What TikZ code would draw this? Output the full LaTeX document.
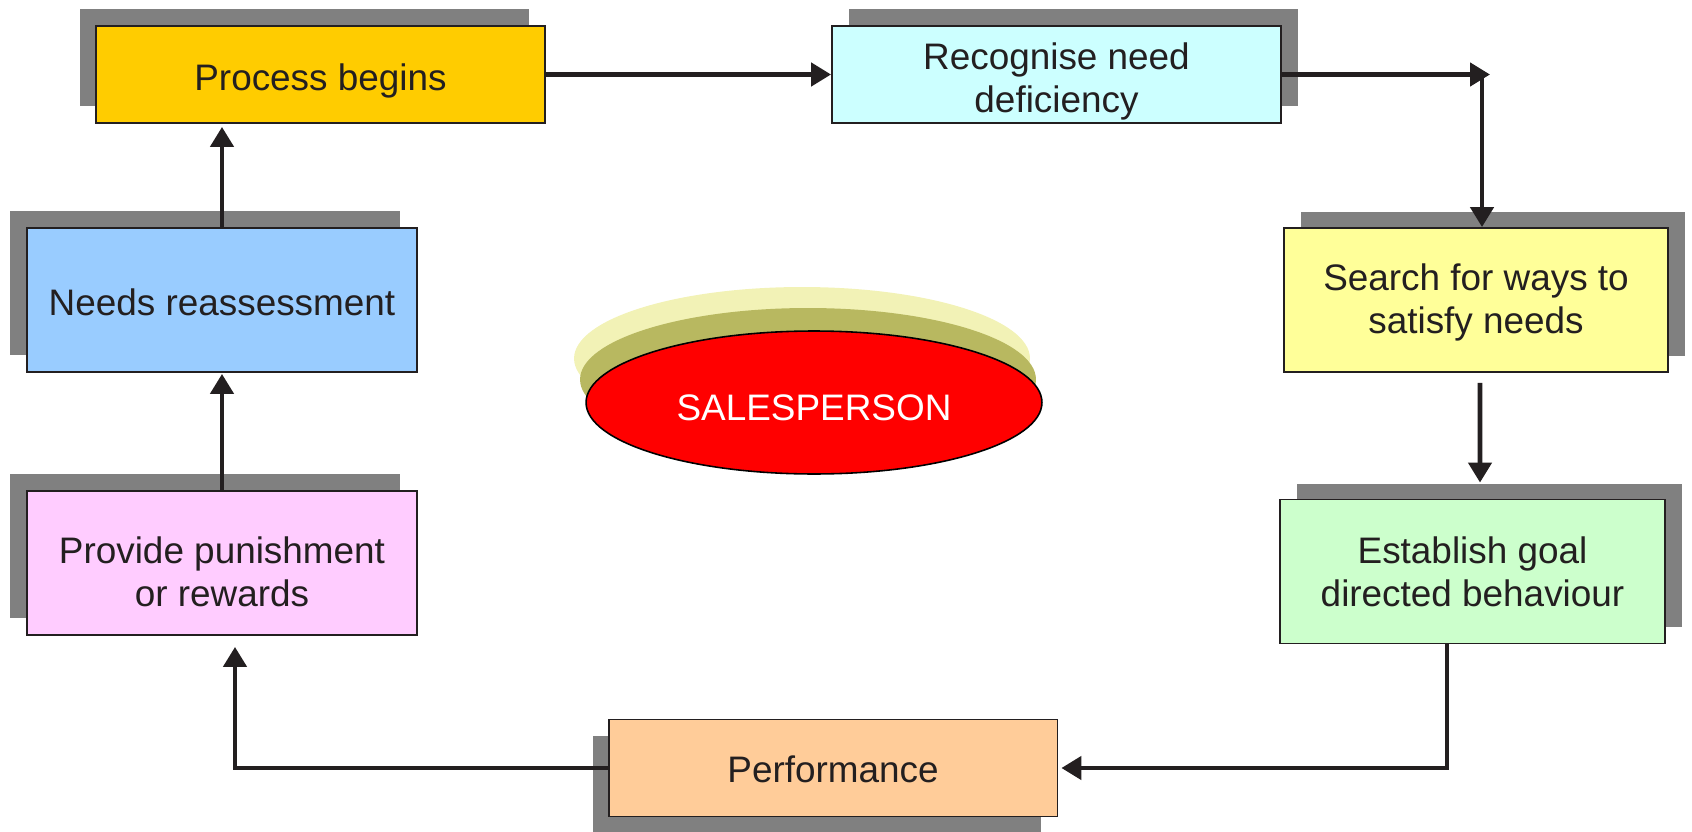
\documentclass[tikz,border=0pt]{standalone}
\usepackage{fontspec}
\setmainfont{Liberation Sans}
\usetikzlibrary{arrows.meta,shapes.geometric,shadows}
\definecolor{tinta}{HTML}{231F20}
\definecolor{grisSombra}{HTML}{808080}
\definecolor{amarilloInicio}{HTML}{FFCC00}
\definecolor{celeste}{HTML}{CCFFFF}
\definecolor{amarilloClaro}{HTML}{FFFF99}
\definecolor{verdeClaro}{HTML}{CCFFCC}
\definecolor{durazno}{HTML}{FFCC99}
\definecolor{rosa}{HTML}{FFCCFF}
\definecolor{azulClaro}{HTML}{99CCFF}
\definecolor{olivo}{HTML}{B8B860}
\definecolor{olivoClaro}{HTML}{F2F2B6}
\newcommand{\bajar}[2][0.14cm]{\raisebox{-#1}[\height][\depth]{\begin{tabular}{@{}c@{}}#2\end{tabular}}}

\begin{document}
\begin{tikzpicture}[x=0.02cm, y=-0.02cm,
    caja/.style={draw=tinta, line width=1.1pt, fill=#1, inner sep=0pt,
        text=tinta, font=\fontsize{21}{24.5}\selectfont},
    ancha/.style={minimum width=8.98cm, minimum height=1.94cm},
    alta/.style={minimum width=7.7cm, minimum height=2.88cm},
    sombra/.style 2 args={drop shadow={shadow xshift=#1, shadow yshift=#2, fill=grisSombra, opacity=1}},
    flecha/.style={draw=tinta, line width=2.6pt, -{Triangle[length=0.4cm, width=0.46cm]}}]
        \useasboundingbox (0,0) rectangle (1692,831);
        % las cajas del ciclo
        \node[caja=amarilloInicio, ancha, sombra={-0.32cm}{0.34cm}] (inicio) at (320.5,74.5) {\bajar{Process begins}};
        \node[caja=celeste, ancha, sombra={0.34cm}{0.34cm}] (reconoce) at (1056.5,74.5) {\bajar[0.15cm]{Recognise need\\deficiency}};
        \node[caja=amarilloClaro, alta, minimum width=7.68cm, sombra={0.34cm}{0.32cm}] (busca) at (1476,300) {\bajar[0.07cm]{Search for ways to\\satisfy needs}};
        \node[caja=verdeClaro, alta, sombra={0.34cm}{0.32cm}] (meta) at (1472.5,571.5) {\bajar[0.1cm]{Establish goal\\directed behaviour}};
        \node[caja=durazno, ancha, sombra={-0.32cm}{-0.32cm}] (desempeno) at (833,768) {\bajar[0.11cm]{Performance}};
        \node[caja=rosa, alta, minimum width=7.8cm, sombra={-0.34cm}{0.34cm}] (premio) at (222,563) {\bajar[0.27cm]{Provide punishment\\or rewards}};
        \node[caja=azulClaro, alta, minimum width=7.8cm, sombra={-0.34cm}{0.34cm}] (revalua) at (222,300) {\bajar[0.13cm]{Needs reassessment}};
        % el vendedor en el centro
        \node[ellipse, draw=black, line width=0.9pt, fill=red, text=white, minimum width=9.12cm, minimum height=2.86cm,
            font=\fontsize{21}{24.5}\selectfont,
            drop shadow={shadow xshift=-0.24cm, shadow yshift=0.88cm, fill=olivoClaro, opacity=1},
            drop shadow={shadow xshift=-0.12cm, shadow yshift=0.46cm, fill=olivo, opacity=1}] (vendedor) at (814,402.5) {\bajar[0.19cm]{SALESPERSON}};
        % flechas
        \coordinate (esquina) at (1482,74.5);
        \draw[flecha] (inicio.east) -- (reconoce.west);
        \draw[flecha] (reconoce.east) -- ([xshift=0.16cm]esquina);
        \draw[flecha] (esquina) -- (esquina |- busca.north);
        \draw[flecha] ([xshift=0.08cm, yshift=-0.2cm]busca.south) -- ([xshift=0.15cm, yshift=0.32cm]meta.north);
        \draw[flecha] ([xshift=-0.51cm]meta.south) |- ([xshift=0.06cm]desempeno.east);
        \draw[flecha] (desempeno.west) -| ([xshift=0.26cm, yshift=-0.22cm]premio.south);
        \draw[flecha] (premio.north) -- ([yshift=-0.02cm]revalua.south);
        \draw[flecha] (revalua.north) -- ([yshift=-0.06cm]revalua.north |- inicio.south);
    \end{tikzpicture}
\end{document}
